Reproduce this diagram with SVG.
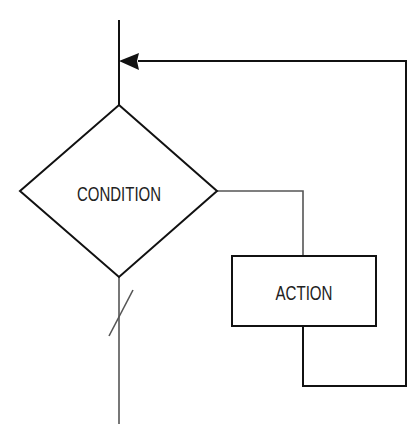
<svg xmlns="http://www.w3.org/2000/svg" width="409" height="424" viewBox="0 0 409 424">
  <style>
    .shape { fill: #fff; stroke: #111; stroke-width: 2; }
    .line { fill: none; stroke: #111; stroke-width: 2; }
    .thin { fill: none; stroke: #555; stroke-width: 1.6; }
    .label { font-family: "Liberation Sans", Arial, sans-serif; font-size: 21px; fill: #222; text-anchor: middle; }
  </style>
  <rect width="409" height="424" fill="#fff"/>
  <g id="connectors">
    <line class="line" x1="119" y1="20" x2="119" y2="105"/>
    <polyline class="line" points="303,327 303,386 406,386 406,61 138,61"/>
    <!-- arrowhead where the loop rejoins the main line -->
    <path d="M119,61 L139,53 L137,61 L139,70 Z" fill="#111"/>
    <polyline class="thin" points="217,191 303,191 303,256"/>
    <line class="thin" x1="119" y1="277" x2="119" y2="424"/>
    <line class="thin" x1="109" y1="336" x2="133" y2="290" stroke="#333"/>
  </g>
  <g id="condition">
    <polygon class="shape" points="119,105 217,191 119,277 20,191"/>
    <text class="label" x="119" y="201" textLength="84" lengthAdjust="spacingAndGlyphs">CONDITION</text>
  </g>
  <g id="action">
    <rect class="shape" x="232" y="256" width="144" height="70"/>
    <text class="label" x="304" y="300" textLength="57" lengthAdjust="spacingAndGlyphs">ACTION</text>
  </g>
</svg>
